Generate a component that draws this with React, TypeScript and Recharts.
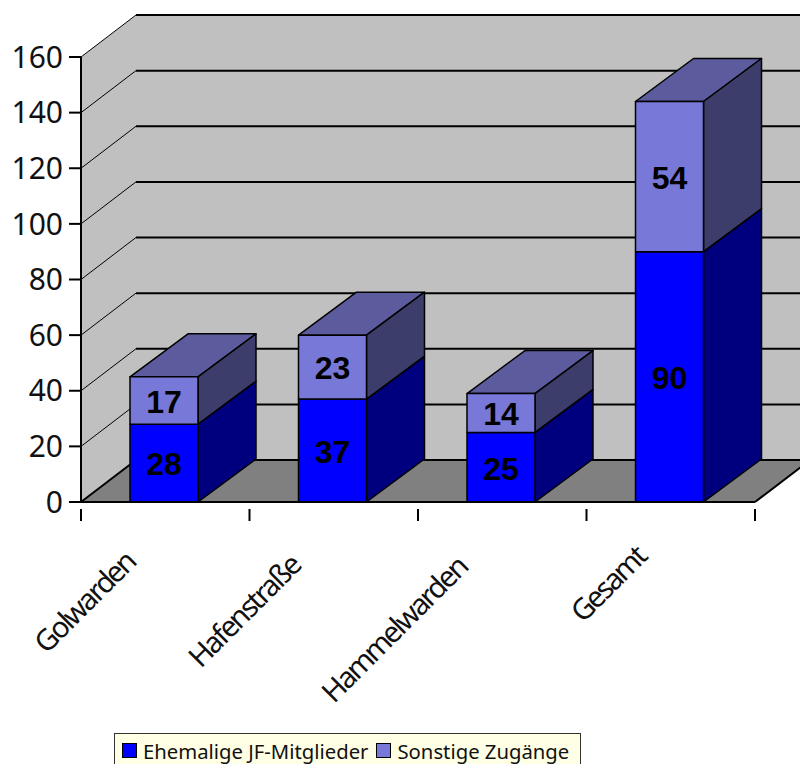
import { BarChart, Bar, XAxis, YAxis, CartesianGrid, Legend, LabelList, usePlotArea } from 'recharts';

const categories = ['Golwarden', 'Hafenstraße', 'Hammelwarden', 'Gesamt'];
const ehemalige = [28, 37, 25, 90];
const sonstige = [17, 23, 14, 54];
const yTicks = [0, 20, 40, 60, 80, 100, 120, 140, 160];

const chartData = categories.map((name, i) => ({
  name,
  ehemalige: ehemalige[i],
  sonstige: sonstige[i],
}));

// depth of the fake 3D box
const DX = 55;
const DY = -42;
const BAR_DX = 58;
const BAR_DY = -43;
const FONT = '"Noto Sans", sans-serif';

function Walls() {
  const area = usePlotArea();
  if (!area) return null;
  const { x, y, width, height } = area;
  const b = y + height;
  const r = x + width;
  return (
    <g>
      <polygon points={`${x},${y} ${x + DX},${y + DY} ${r + DX},${y + DY} ${r + DX},${b + DY} ${x + DX},${b + DY} ${x},${b}`} fill="#c0c0c0" />
      <polygon points={`${x},${b} ${r},${b} ${r + DX},${b + DY} ${x + DX},${b + DY}`} fill="#808080" />
      <line x1={r} y1={b} x2={r + DX} y2={b + DY} stroke="#000" strokeWidth={2} />
    </g>
  );
}

function gridLine(props: any) {
  const { x1, x2, y1 } = props;
  const w = y1 > 490 ? 2 : 1;
  return (
    <g key={`grid-${y1}`}>
      <line x1={x1 + DX} y1={y1 + DY} x2={x2 + DX} y2={y1 + DY} stroke="#000" strokeWidth={2} />
      <line x1={x1} y1={y1} x2={x1 + DX} y2={y1 + DY} stroke="#000" strokeWidth={w} />
    </g>
  );
}

function boxShape(front: string, side: string, top?: string) {
  return (props: any) => {
    const { x: rawX, y, width, height } = props;
    const x = rawX - 1;
    const r = x + width;
    const b = y + height;
    return (
      <g stroke="#000" strokeWidth={1.5} strokeLinejoin="round">
        {top && (
          <polygon points={`${x},${y} ${r},${y} ${r + BAR_DX},${y + BAR_DY} ${x + BAR_DX},${y + BAR_DY}`} fill={top} />
        )}
        <polygon points={`${r},${y} ${r + BAR_DX},${y + BAR_DY} ${r + BAR_DX},${b + BAR_DY} ${r},${b}`} fill={side} />
        <rect x={x} y={y} width={width} height={height} fill={front} />
      </g>
    );
  };
}

function XTick(props: any) {
  const { x, y, payload, index } = props;
  const area = usePlotArea();
  const band = area ? area.width / categories.length : 168.5;
  const left = x - band / 2;
  // shorter labels sit a bit further up the diagonal
  const slide = (9.5 - String(payload.value).length) * 1.7;
  return (
    <g>
      <line x1={left} y1={y - 1} x2={left} y2={y + 11} stroke="#000" strokeWidth={2} />
      {index === categories.length - 1 && (
        <line x1={x + band / 2} y1={y - 1} x2={x + band / 2} y2={y + 11} stroke="#000" strokeWidth={2} />
      )}
      <text
        transform={`translate(${x - 29 + slide},${y + 55 - slide}) rotate(-45)`}
        textAnchor="end"
        fontFamily={FONT}
        fontSize={29}
        letterSpacing={-2.3}
        fill="#111"
      >
        {payload.value}
      </text>
    </g>
  );
}

function LegendBox() {
  const swatch = (c: string) => (
    <span style={{ display: 'inline-block', width: 13, height: 13, background: c, border: '1px solid #000', marginRight: 6, flex: 'none' }} />
  );
  return (
    <div style={{ display: 'flex', alignItems: 'center', height: 40, boxSizing: 'border-box', paddingLeft: 7, paddingBottom: 5, background: '#ffffe6', border: '1px solid #333', fontFamily: FONT, fontSize: 20.3, lineHeight: '20px', color: '#111', whiteSpace: 'nowrap' }}>
      {swatch('#0000ff')}
      <span style={{ marginRight: 8 }}>Ehemalige JF-Mitglieder</span>
      {swatch('#7878d8')}
      <span>Sonstige Zugänge</span>
    </div>
  );
}

const labelStyle = { fontFamily: '"Liberation Sans", Arial, sans-serif', fontWeight: 700, fontSize: 32, fill: '#000' };

export default function App() {
  return (
    <div style={{ position: 'absolute', left: 0, top: 0, width: 800, height: 764, overflow: 'hidden', background: '#fff' }}>
      <BarChart
        width={800}
        height={764}
        data={chartData}
        barSize={68}
        margin={{ top: 57, right: 45, bottom: 62, left: 0 }}
        style={{ overflow: 'hidden' }}
      >
        <Walls />
        <CartesianGrid vertical={false} horizontal={gridLine} zIndex={50} />
        <XAxis
          dataKey="name"
          height={200}
          interval={0}
          tickLine={false}
          stroke="#000"
          strokeWidth={2}
          tick={(p: any) => <XTick {...p} />}
        />
        <YAxis
          width={81}
          domain={[0, 160]}
          ticks={yTicks}
          interval={0}
          stroke="#000"
          strokeWidth={2}
          tickSize={12}
          tickMargin={6}
          tick={{ fontFamily: FONT, fontSize: 30, fill: '#111' }}
        />
        <Legend
          layout="horizontal"
          verticalAlign="middle"
          align="center"
          content={<LegendBox />}
          wrapperStyle={{ position: 'absolute', left: 114, top: 733, width: 467, height: 40, margin: 0 }}
        />
        <Bar dataKey="ehemalige" stackId="a" fill="#0000ff" isAnimationActive={false} shape={boxShape('#0000ff', '#00007f')}>
          <LabelList dataKey="ehemalige" position="center" dx={-1} dy={1} style={labelStyle} />
        </Bar>
        <Bar dataKey="sonstige" stackId="a" fill="#7878d8" isAnimationActive={false} shape={boxShape('#7878d8', '#3d3d6b', '#5b5b9e')}>
          <LabelList dataKey="sonstige" position="center" dx={-1} dy={1} style={labelStyle} />
        </Bar>
      </BarChart>
    </div>
  );
}
